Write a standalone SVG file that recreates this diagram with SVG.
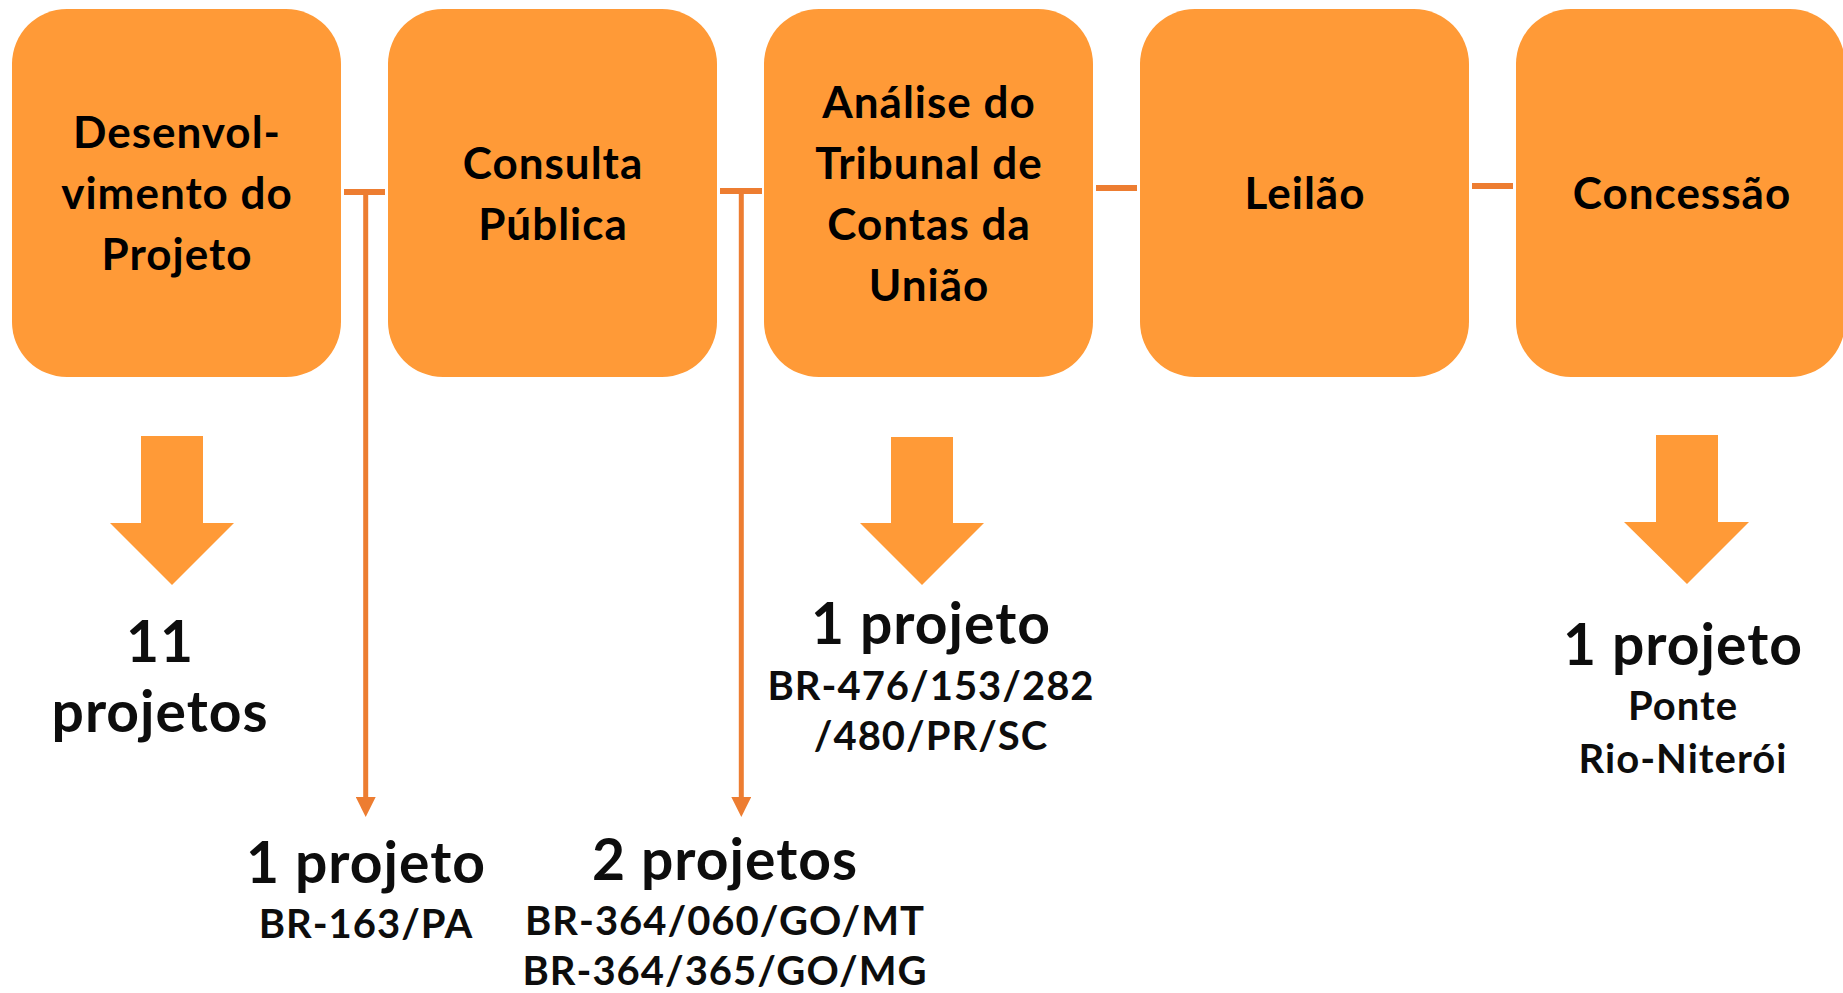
<svg xmlns="http://www.w3.org/2000/svg" width="1843" height="993" viewBox="0 0 1843 993">
<style>
.box{fill:#FF9A37}
.bt{font-family:Lato,"Open Sans","Liberation Sans",sans-serif;font-weight:bold;font-size:44px;letter-spacing:1px;fill:#000;text-anchor:middle}
.big{font-family:Lato,"Open Sans","Liberation Sans",sans-serif;font-weight:bold;font-size:57px;letter-spacing:1px;fill:#0d0d0d;text-anchor:middle}
.sm{font-family:Lato,"Open Sans","Liberation Sans",sans-serif;font-weight:bold;font-size:40px;letter-spacing:1px;fill:#0d0d0d;text-anchor:middle}
.con{stroke:#ED7D31;stroke-width:6;fill:none}
.vl{stroke:#ED7D31;stroke-width:5;fill:none}
.ba{fill:#FF9A37}
</style>
<defs>
<marker id="ah" markerUnits="userSpaceOnUse" markerWidth="20" markerHeight="20" refX="0" refY="10" orient="auto" viewBox="0 0 20 20">
<path d="M0,0 L20,10 L0,20 Z" fill="#ED7D31"/>
</marker>
</defs>
<g id="n1">
<rect class="box" x="12" y="9" width="329" height="368" rx="55"/>
<text class="bt" x="177" y="148">Desenvol-</text>
<text class="bt" x="177" y="209">vimento do</text>
<text class="bt" x="177" y="270">Projeto</text>
</g>
<g id="n2">
<rect class="box" x="388" y="9" width="329" height="368" rx="55"/>
<text class="bt" x="553" y="178.5">Consulta</text>
<text class="bt" x="553" y="239.5">Pública</text>
</g>
<g id="n3">
<rect class="box" x="764" y="9" width="329" height="368" rx="55"/>
<text class="bt" x="929" y="117.5">Análise do</text>
<text class="bt" x="929" y="178.5">Tribunal de</text>
<text class="bt" x="929" y="239.5">Contas da</text>
<text class="bt" x="929" y="300.5">União</text>
</g>
<g id="n4">
<rect class="box" x="1140" y="9" width="329" height="368" rx="55"/>
<text class="bt" x="1305" y="209">Leilão</text>
</g>
<g id="n5">
<rect class="box" x="1516" y="9" width="329" height="368" rx="55"/>
<text class="bt" x="1682" y="209">Concessão</text>
</g>
<g id="connectors">
<line class="con" x1="344" y1="192" x2="385" y2="192"/>
<line class="vl" x1="365.7" y1="192" x2="365.7" y2="797" marker-end="url(#ah)"/>
<line class="con" x1="720" y1="191" x2="762" y2="191"/>
<line class="vl" x1="741.3" y1="191" x2="741.3" y2="797" marker-end="url(#ah)"/>
<line class="con" x1="1096" y1="188" x2="1137" y2="188"/>
<line class="con" x1="1472" y1="186" x2="1513" y2="186"/>
</g>
<g id="arrow1">
<polygon class="ba" points="141,436 203,436 203,523 234,523 172,585 110,523 141,523"/>
</g>
<g id="arrow3">
<polygon class="ba" points="891,437 953,437 953,523 984,523 922,585 860,523 891,523"/>
</g>
<g id="arrow5">
<polygon class="ba" points="1656,435 1718,435 1718,522 1749,522 1687,584 1624,522 1656,522"/>
</g>
<g id="label1">
<text class="big" x="160" y="662">11</text>
<text class="big" x="160" y="732">projetos</text>
</g>
<g id="label2">
<text class="big" x="366" y="883">1 projeto</text>
<text class="sm" x="366" y="938">BR-163/PA</text>
</g>
<g id="label3">
<text class="big" x="725" y="880">2 projetos</text>
<text class="sm" x="725" y="935">BR-364/060/GO/MT</text>
<text class="sm" x="725" y="985">BR-364/365/GO/MG</text>
</g>
<g id="label4">
<text class="big" x="931" y="644">1 projeto</text>
<text class="sm" x="931" y="700">BR-476/153/282</text>
<text class="sm" x="931" y="750">/480/PR/SC</text>
</g>
<g id="label5">
<text class="big" x="1683" y="665">1 projeto</text>
<text class="sm" x="1683" y="720">Ponte</text>
<text class="sm" x="1683" y="773">Rio-Niterói</text>
</g>
</svg>
